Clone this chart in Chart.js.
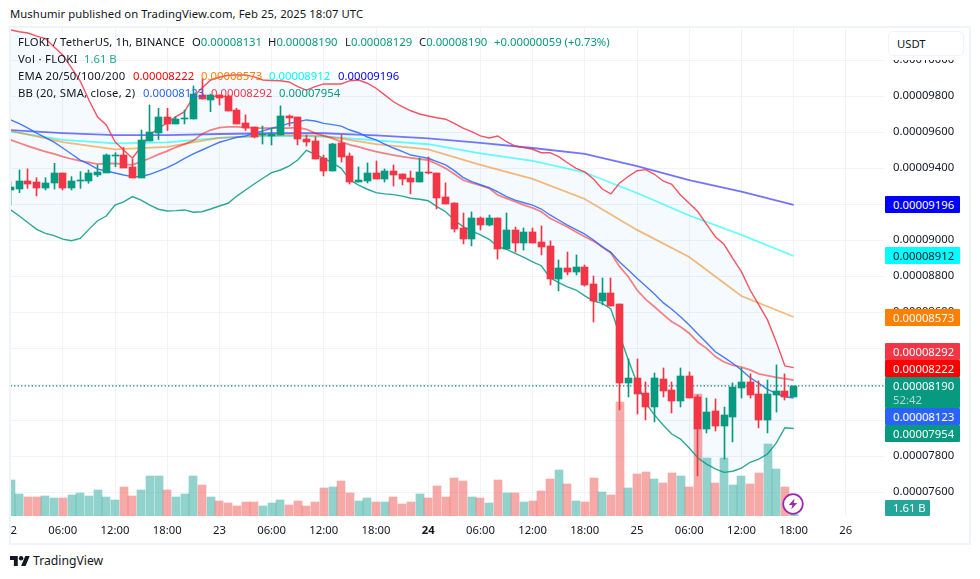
<!DOCTYPE html>
<html><head><meta charset="utf-8">
<script src="https://cdn.jsdelivr.net/npm/chart.js@4"></script>
<style>
html,body{margin:0;padding:0;background:#fff;width:980px;height:579px;overflow:hidden;font-family:"Noto Sans",sans-serif;color:#131722}
.t{position:absolute;white-space:nowrap;font-size:11.3px;line-height:16px}
#frame{position:absolute;left:9px;top:26px;width:958px;height:515px;border:2px solid #f0f3fa}
canvas{position:absolute;left:11px;top:28px}
#mask{position:absolute;left:885px;top:28px;width:84px;height:32px;background:#fff}
#usdt{position:absolute;left:888px;top:31px;width:76px;height:25px;border:1.5px solid #f0f3fa;border-radius:5px;background:#fff;box-sizing:border-box;padding-left:8px;font-size:11.3px;line-height:23px}
.tag{position:absolute;left:885px;width:75px;height:17px;line-height:17px;color:#fff;box-sizing:border-box;padding-left:8px;font-size:11.3px;white-space:nowrap;border-radius:1px}
</style></head><body>
<div class="t" style="left:10px;top:6px;letter-spacing:.065px" id="hd">Mushumir published on TradingView.com, Feb 25, 2025 18:07 UTC</div>
<div id="frame"></div>
<canvas id="c" width="958" height="515"></canvas>
<div id="mask"></div>
<div id="usdt">USDT</div>

<div class="t" style="left:18px;top:34px;letter-spacing:.1px">FLOKI / TetherUS, 1h, BINANCE</div>
<div class="t" style="left:192px;top:34px">O<span style="color:#089981">0.00008131</span></div>
<div class="t" style="left:268px;top:34px">H<span style="color:#089981">0.00008190</span></div>
<div class="t" style="left:345px;top:34px">L<span style="color:#089981">0.00008129</span></div>
<div class="t" style="left:419px;top:34px">C<span style="color:#089981">0.00008190</span></div>
<div class="t" style="left:494px;top:34px;color:#089981">+0.00000059 (+0.73%)</div>
<div class="t" style="left:18px;top:51px;letter-spacing:.3px">Vol · FLOKI</div>
<div class="t" style="left:84px;top:51px;color:#26a69a">1.61 B</div>
<div class="t" style="left:18px;top:68px;letter-spacing:.2px">EMA 20/50/100/200</div>
<div class="t" style="left:133px;top:68px;color:#ff0000">0.00008222</div>
<div class="t" style="left:201px;top:68px;color:#ff8000">0.00008573</div>
<div class="t" style="left:269px;top:68px;color:#00ffff">0.00008912</div>
<div class="t" style="left:338px;top:68px;color:#0000ff">0.00009196</div>
<div class="t" style="left:18px;top:85px;letter-spacing:.23px">BB (20, SMA, close, 2)</div>
<div class="t" style="left:143px;top:85px;color:#2962ff">0.00008123</div>
<div class="t" style="left:211px;top:85px;color:#f23645">0.00008292</div>
<div class="t" style="left:279px;top:85px;color:#089981">0.00007954</div>

<div class="tag" style="top:196px;background:#0000ff">0.00009196</div>
<div class="tag" style="top:247px;background:#00ffff;color:#131722">0.00008912</div>
<div class="tag" style="top:309px;background:#ff8000">0.00008573</div>
<div class="tag" style="top:343px;background:#f23645">0.00008292</div>
<div class="tag" style="top:360px;background:#ff0000">0.00008222</div>
<div class="tag" style="top:377px;height:31px;background:#089981">0.00008190<br><span style="opacity:.65;line-height:12px;display:block">52:42</span></div>
<div class="tag" style="top:408px;background:#2962ff">0.00008123</div>
<div class="tag" style="top:425px;background:#089981">0.00007954</div>
<div class="tag" style="top:500px;width:45px;height:16px;line-height:16px;background:#26a69a">1.61 B</div>

<svg style="position:absolute;left:782px;top:493px" width="22" height="22" viewBox="0 0 22 22">
<circle cx="11" cy="11" r="9.8" fill="#fff" stroke="#9c27b0" stroke-width="1.7"/>
<path d="M12.6 5.5 L6.8 12 H10.4 L9.2 16.5 L15.2 10 H11.6 Z" fill="#9c27b0"/></svg>
<svg style="position:absolute;left:10px;top:556px" width="20" height="10" viewBox="0 4 36 18"><path fill="#131722" d="M14 22H7V11H0V4h14v18zM28 22h-8l7.5-18h8L28 22z"/><circle fill="#131722" cx="20" cy="8" r="4"/></svg>
<div class="t" style="left:33px;top:552px;font-size:12.2px;line-height:18px">TradingView</div>

<script>
// Prices are in units of 0.00000001 USDT; volumes in billions.
const candleOpen=[9279,9284,9329,9323,9292,9318,9373,9292,9331,9329,9362,9375,9470,9473,9405,9347,9551,9594,9684,9646,9673,9673,9807,9779,9807,9799,9723,9651,9629,9583,9579,9584,9690,9684,9562,9551,9457,9384,9540,9468,9325,9329,9373,9340,9384,9368,9345,9323,9379,9373,9240,9207,9068,9007,9123,9084,9123,8951,9057,8984,9046,8990,8968,8784,8846,8823,8851,8757,8662,8707,8645,8207,8234,8151,8073,8229,8168,8107,8245,8129,7951,8051,7968,8018,8179,8212,8145,8001,8140,8162,8131];
const candleHigh=[9325,9390,9396,9347,9347,9427,9373,9353,9381,9390,9418,9479,9486,9516,9449,9612,9751,9733,9733,9686,9723,9857,9899,9812,9807,9807,9733,9696,9629,9634,9622,9746,9696,9684,9584,9575,9473,9538,9584,9484,9407,9429,9440,9396,9418,9368,9384,9457,9462,9373,9318,9207,9151,9157,9129,9140,9123,9151,9073,9068,9068,9079,8996,8890,8934,8918,8862,8801,8790,8790,8645,8340,8340,8212,8262,8290,8212,8290,8268,8140,8123,8118,8073,8207,8290,8257,8218,8223,8307,8257,8190];
const candleLow=[9195,9264,9288,9246,9279,9284,9279,9279,9288,9316,9353,9375,9408,9403,9347,9347,9551,9560,9609,9646,9646,9673,9784,9714,9751,9718,9646,9609,9568,9534,9529,9584,9634,9529,9523,9451,9357,9384,9434,9312,9323,9318,9340,9323,9301,9307,9257,9323,9368,9173,9201,9045,8979,8968,9057,9079,8895,8951,8934,8945,8984,8918,8751,8718,8807,8807,8745,8545,8640,8634,8057,8129,8034,8001,7990,8129,8040,8073,8123,7690,7929,7940,7784,7879,8123,8123,7957,7929,8045,8112,8129];
const candleClose=[9297,9329,9310,9292,9318,9373,9288,9329,9334,9373,9381,9473,9475,9403,9347,9557,9601,9684,9646,9673,9677,9812,9784,9807,9792,9718,9646,9622,9573,9588,9590,9690,9681,9560,9546,9451,9384,9534,9462,9323,9334,9373,9340,9384,9362,9340,9323,9379,9373,9234,9201,9062,9007,9123,9084,9123,8951,9057,8984,9046,8984,8962,8784,8846,8823,8851,8751,8662,8707,8634,8207,8234,8145,8073,8234,8162,8107,8245,8123,7951,8045,7968,8029,8184,8212,8140,8001,8145,8162,8129,8190];
const volumes=[38,23.5,20.3,20.3,21.4,19.3,19.3,22.5,24.6,21.4,27.8,20.3,17.1,31,21.4,27.8,42.8,42.8,27.8,20.3,23.5,42.8,33.2,20.3,16,13.9,10.7,15,15,10.7,13.9,17.1,11.8,16,10.7,15,30,31,37.5,24.6,16,19.3,15,15,20.3,12.8,15,23.5,19.3,32.1,20.3,40.7,37.5,20.3,19.3,13.9,38.5,24.6,24.6,15,16,26.8,39.6,49.2,34.2,16,15,40.7,25.7,22.5,122,30,44.9,47.1,39.6,35.3,46,42.8,31,130.5,62,35.3,62,33.2,42.8,34.2,46,77,50.3,31,1.61];
const bbUpper=[10168,10158,10151,10134,10120,10073,10029,9957,9884,9779,9684,9640,9547,9501,9455,9519,9584,9623,9651,9686,9714,9797,9845,9890,9905,9916,9918,9918,9907,9890,9887,9886,9879,9853,9834,9853,9868,9868,9868,9886,9890,9872,9844,9807,9769,9742,9719,9701,9690,9680,9672,9649,9622,9603,9579,9568,9579,9547,9523,9514,9505,9486,9486,9464,9430,9399,9379,9340,9284,9257,9318,9354,9386,9392,9366,9329,9310,9251,9205,9158,9088,9019,8977,8899,8825,8723,8640,8557,8436,8301,8292];
const bbBasis=[9668,9648,9623,9595,9570,9545,9512,9479,9445,9423,9395,9384,9373,9362,9353,9353,9366,9384,9403,9427,9455,9479,9501,9523,9544,9557,9572,9579,9594,9607,9622,9634,9649,9658,9668,9662,9649,9642,9634,9612,9597,9573,9557,9534,9512,9493,9473,9464,9455,9436,9418,9386,9349,9325,9308,9292,9268,9242,9222,9208,9195,9173,9140,9112,9084,9058,9034,9001,8964,8932,8879,8834,8788,8745,8701,8653,8616,8575,8529,8479,8430,8380,8349,8316,8279,8236,8205,8171,8149,8130,8123];
const bbLower=[9168,9134,9097,9060,9038,9025,9006,8997,9010,9060,9108,9134,9195,9213,9242,9223,9195,9172,9162,9164,9168,9155,9158,9173,9190,9205,9245,9279,9312,9344,9375,9390,9412,9445,9499,9477,9455,9429,9399,9334,9306,9283,9264,9257,9253,9245,9233,9227,9219,9186,9158,9112,9075,9051,9029,9005,8964,8949,8927,8905,8880,8858,8791,8764,8741,8723,8691,8662,8649,8618,8473,8334,8206,8095,8029,7973,7923,7895,7845,7790,7756,7729,7710,7716,7734,7766,7783,7812,7872,7958,7954];
const ema20=[9557,9540,9523,9507,9492,9479,9464,9451,9440,9432,9423,9426,9426,9422,9418,9436,9455,9477,9495,9516,9534,9553,9590,9612,9625,9630,9630,9627,9623,9622,9622,9622,9623,9627,9616,9595,9579,9566,9547,9529,9518,9504,9492,9482,9473,9464,9457,9451,9445,9423,9399,9368,9334,9318,9304,9288,9251,9232,9214,9195,9179,9158,9122,9098,9073,9045,9019,8995,8962,8929,8853,8797,8723,8671,8630,8588,8547,8519,8483,8433,8399,8353,8323,8306,8295,8279,8257,8247,8238,8231,8222];
const emaBars=[0,6,12,18,24,30,36,42,48,54,60,66,72,78,84,90];
const ema50=[9608,9545,9504,9518,9568,9584,9579,9534,9505,9418,9340,9229,9057,8907,8690,8573];
const ema100=[9603,9557,9538,9543,9568,9579,9576,9554,9533,9482,9440,9376,9262,9137,9029,8912];
const ema200=[9612,9595,9584,9584,9590,9594,9594,9582,9566,9540,9512,9479,9412,9334,9270,9196];
const xTickBars=[0,6,12,18,24,30,36,42,48,54,60,66,72,78,84,90,96];
const xTickLabels=["22","06:00","12:00","18:00","23","06:00","12:00","18:00","24","06:00","12:00","18:00","25","06:00","12:00","18:00","26"];
const priceTicks=[7600,7800,8000,8200,8400,8600,8800,9000,9200,9400,9600,9800,10000];
const lastPrice=8190;

const UP='#089981',DOWN='#f23645',FONT='"Noto Sans",sans-serif';
const bars=candleOpen.map((_,i)=>i);
const up=i=>candleClose[i]>=candleOpen[i];
const candleColor=c=>up(c.dataIndex)?UP:DOWN;
const pts=(ys,xs)=>ys.map((y,i)=>({x:xs?xs[i]:i,y}));
const line=(label,ys,xs,color,extra)=>Object.assign({type:'line',label,data:pts(ys,xs),borderColor:color,borderWidth:1.4,pointRadius:0,tension:0,fill:false,order:5,yAxisID:'y'},extra||{});

const snapBars={id:'snapBars',afterDatasetsUpdate(chart){
  chart.data.datasets.forEach((d,i)=>{
    if(d.type!=='bar')return;
    chart.getDatasetMeta(i).data.forEach(el=>{
      el.x=d.snap==='even'?Math.round(el.x):Math.round(el.x-0.5)+0.5;
      if(d.snap==='body'||d.snap==='even'){el.y=Math.round(el.y);el.base=Math.round(el.base);
        if(el.y===el.base)el.y=el.base-1;}
    });
  });
}};

new Chart(document.getElementById('c'),{
  type:'line',
  plugins:[snapBars],
  data:{datasets:[
    {type:'bar',label:'Vol',yAxisID:'yVol',data:pts(volumes),grouped:false,barThickness:8,snap:'even',order:9,borderWidth:0,
      backgroundColor:c=>up(c.dataIndex)?'rgba(38,166,154,.5)':'rgba(239,83,80,.5)'},
    line('BB upper',bbUpper,null,'rgba(242,54,69,.85)',{fill:'+1',backgroundColor:'rgba(33,150,243,.05)'}),
    line('BB lower',bbLower,null,'rgba(8,153,129,.85)'),
    line('BB basis',bbBasis,null,'rgba(41,98,255,.85)'),
    line('EMA 20',ema20,null,'rgba(255,0,0,.5)',{borderWidth:1.8}),
    line('EMA 50',ema50,emaBars,'rgba(255,128,0,.55)',{borderWidth:1.8}),
    line('EMA 100',ema100,emaBars,'rgba(0,255,255,.6)',{borderWidth:1.8}),
    line('EMA 200',ema200,emaBars,'rgba(0,0,255,.55)',{borderWidth:1.8}),
    {type:'line',label:'Last',data:[{x:0,y:lastPrice},{x:101,y:lastPrice}],borderColor:'#067a67',borderWidth:1.3,borderDash:[1.3,2.2],pointRadius:0,order:4,yAxisID:'y'},
    {type:'bar',label:'Wicks',yAxisID:'y',data:bars.map(i=>({x:i,y:[candleLow[i],candleHigh[i]]})),grouped:false,barThickness:1,snap:'wick',order:2,borderWidth:0,backgroundColor:candleColor},
    {type:'bar',label:'Bodies',yAxisID:'y',data:bars.map(i=>({x:i,y:[candleOpen[i],candleClose[i]]})),grouped:false,barThickness:7,snap:'body',order:1,borderWidth:0,minBarLength:1,backgroundColor:candleColor}
  ]},
  options:{
    responsive:false,animation:false,devicePixelRatio:1,events:[],
    layout:{padding:0},
    plugins:{legend:{display:false},tooltip:{enabled:false}},
    scales:{
      x:{type:'linear',offset:false,min:0.046,max:100.39,
        grid:{offset:false,color:'#f0f3fa',lineWidth:1,drawTicks:false},border:{display:false},
        afterBuildTicks(s){s.ticks=xTickBars.map(value=>({value}));},
        afterFit(s){s.height=27;s.paddingLeft=0;s.paddingRight=0;},
        ticks:{autoSkip:false,maxRotation:0,padding:8,color:'#131722',
          font:c=>({family:FONT,size:11.3,weight:(c.tick&&c.tick.value===48)?'bold':'normal'}),
          callback:v=>xTickLabels[xTickBars.indexOf(v)]}},
      y:{type:'linear',position:'right',min:7467.5,max:10178.8,
        grid:{color:'#f0f3fa',lineWidth:1,drawTicks:false},border:{display:false},
        afterBuildTicks(s){s.ticks=priceTicks.map(value=>({value}));},
        afterFit(s){s.width=85;s.paddingTop=0;s.paddingBottom=0;},
        ticks:{padding:9,color:'#131722',font:{family:FONT,size:11.3},callback:v=>(v/1e8).toFixed(8)}},
      yVol:{type:'linear',display:false,min:0,max:522}
    }
  }
});
</script>
</body></html>
